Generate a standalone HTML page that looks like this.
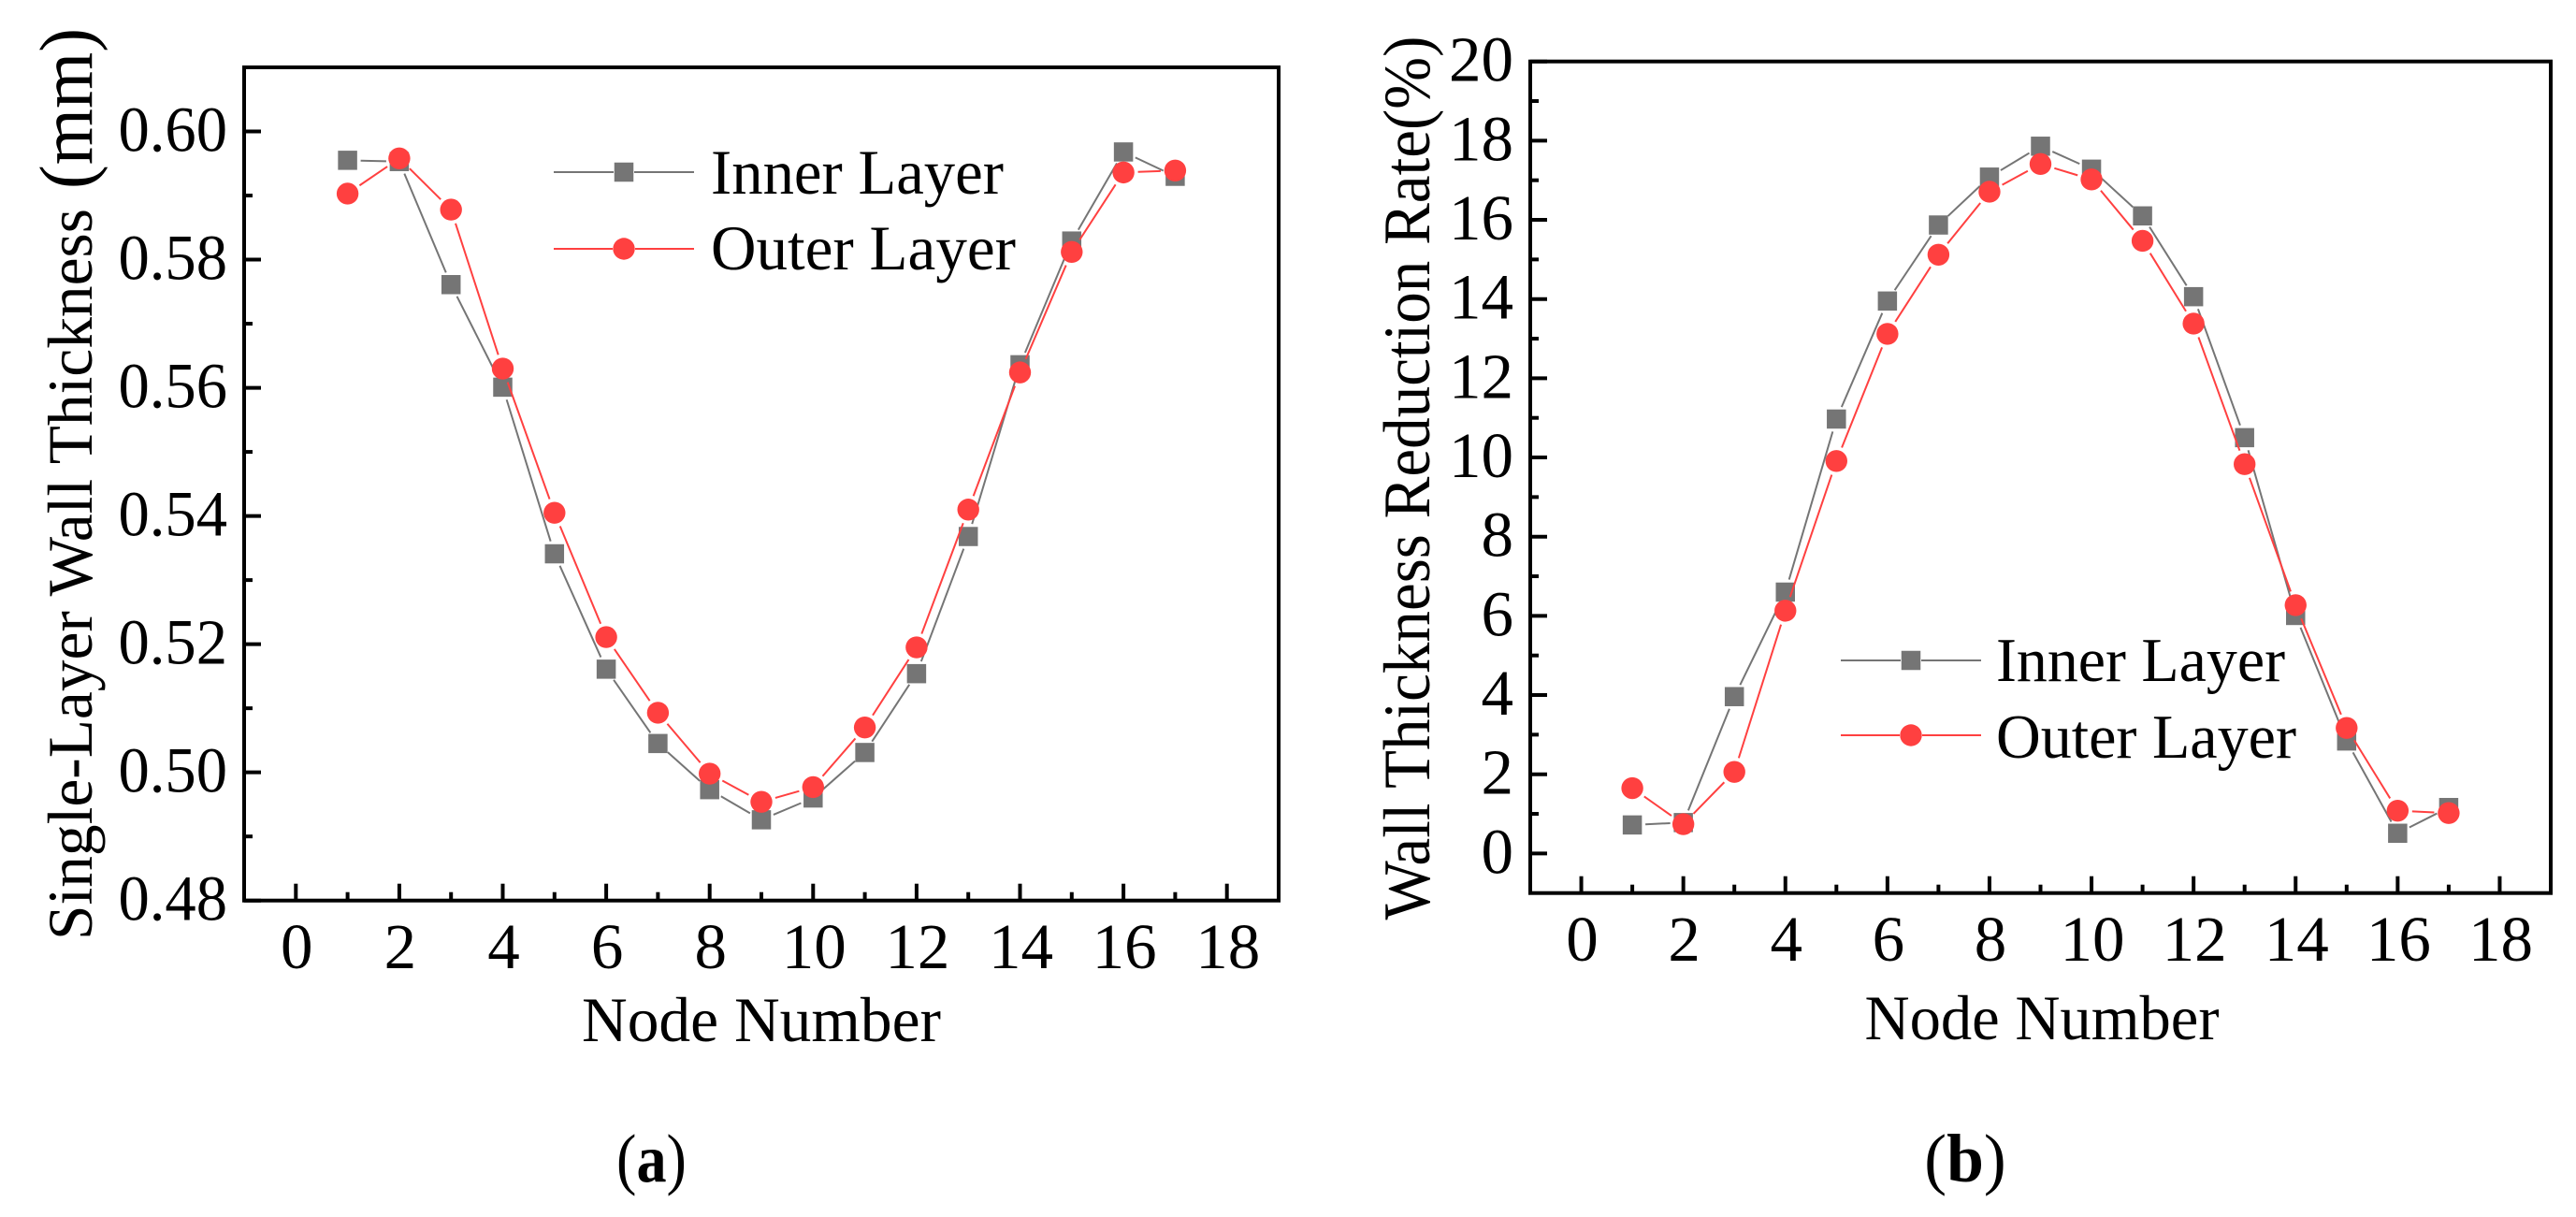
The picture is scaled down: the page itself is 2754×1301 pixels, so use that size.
<!DOCTYPE html>
<html lang="en">
<head>
<meta charset="utf-8">
<title>Wall thickness by node number</title>
<style>
html,body{margin:0;padding:0;background:#fff;width:2754px;height:1301px;overflow:hidden}
svg{display:block}
text{font-family:"Liberation Serif",serif;fill:#000}
</style>
</head>
<body>
<svg id="figure" xmlns="http://www.w3.org/2000/svg" width="2754" height="1301" viewBox="0 0 2754 1301">
  <g id="panel-a">
    <text font-size="68" text-anchor="middle" transform="translate(98,614) rotate(-90)" textLength="782" lengthAdjust="spacingAndGlyphs">Single-Layer Wall Thickness</text>
    <text font-size="81" text-anchor="middle" transform="translate(98,116) rotate(-90)" textLength="172" lengthAdjust="spacingAndGlyphs">(mm)</text>
    <text font-size="68" text-anchor="middle" x="814" y="1113" textLength="384" lengthAdjust="spacingAndGlyphs">Node Number</text>
    <text font-size="73" text-anchor="middle" transform="translate(696.5,1263) scale(0.88,1)">(<tspan font-weight="bold">a</tspan>)</text>
    <g>
      <line x1="592" x2="656" y1="184" y2="184" stroke="#757575" stroke-width="2"/>
      <line x1="678" x2="742" y1="184" y2="184" stroke="#757575" stroke-width="2"/>
      <rect x="656.75" y="173.75" width="20.5" height="20.5" fill="#757575"/>
      <text font-size="68" x="760" y="207" textLength="313" lengthAdjust="spacingAndGlyphs">Inner Layer</text>
      <line x1="592" x2="655" y1="266" y2="266" stroke="#ff4040" stroke-width="2"/>
      <line x1="679" x2="742" y1="266" y2="266" stroke="#ff4040" stroke-width="2"/>
      <circle cx="667" cy="266" r="11.7" fill="#ff4040"/>
      <text font-size="68" x="760" y="288" textLength="326" lengthAdjust="spacingAndGlyphs">Outer Layer</text>
    </g>
  </g>
  <g id="panel-b">
    <text font-size="71" text-anchor="middle" transform="translate(1528,511) rotate(-90)" textLength="945" lengthAdjust="spacingAndGlyphs">Wall Thickness Reduction Rate(%)</text>
    <text font-size="68" text-anchor="middle" x="2183" y="1111" textLength="379" lengthAdjust="spacingAndGlyphs">Node Number</text>
    <text font-size="73" text-anchor="middle" transform="translate(2101,1263) scale(0.98,1)">(<tspan font-weight="bold">b</tspan>)</text>
    <g>
      <line x1="1968" x2="2032" y1="706" y2="706" stroke="#757575" stroke-width="2"/>
      <line x1="2054" x2="2118" y1="706" y2="706" stroke="#757575" stroke-width="2"/>
      <rect x="2032.75" y="695.75" width="20.5" height="20.5" fill="#757575"/>
      <text font-size="67" x="2134" y="728" textLength="309" lengthAdjust="spacingAndGlyphs">Inner Layer</text>
      <line x1="1968" x2="2031" y1="786" y2="786" stroke="#ff4040" stroke-width="2"/>
      <line x1="2055" x2="2118" y1="786" y2="786" stroke="#ff4040" stroke-width="2"/>
      <circle cx="2043" cy="786" r="11.7" fill="#ff4040"/>
      <text font-size="67" x="2134" y="810" textLength="321" lengthAdjust="spacingAndGlyphs">Outer Layer</text>
    </g>
  </g>
</svg>
<script>
const nodes = [1, 2, 3, 4, 5, 6, 7, 8, 9, 10, 11, 12, 13, 14, 15, 16, 17];
const xTickLabels = ["0", "2", "4", "6", "8", "10", "12", "14", "16", "18"];
const thicknessTickLabels = ["0.48", "0.50", "0.52", "0.54", "0.56", "0.58", "0.60"];
const reductionTickLabels = ["0", "2", "4", "6", "8", "10", "12", "14", "16", "18", "20"];
const thicknessInner = [0.5955, 0.5953, 0.5761, 0.5601, 0.5341, 0.5161, 0.5045, 0.4973, 0.4926, 0.4960, 0.5031, 0.5154, 0.5368, 0.5636, 0.5829, 0.5968, 0.5930];
const thicknessOuter = [0.5903, 0.5958, 0.5878, 0.5630, 0.5405, 0.5211, 0.5093, 0.4998, 0.4954, 0.4977, 0.5070, 0.5195, 0.5410, 0.5624, 0.5812, 0.5936, 0.5939];
const reductionInner = [0.72, 0.78, 3.96, 6.60, 10.97, 13.95, 15.87, 17.08, 17.86, 17.28, 16.10, 14.06, 10.50, 6.01, 2.84, 0.51, 1.16];
const reductionOuter = [1.65, 0.74, 2.06, 6.13, 9.91, 13.12, 15.12, 16.71, 17.41, 17.02, 15.47, 13.38, 9.83, 6.27, 3.17, 1.08, 1.02];

const SVG_NS = "http://www.w3.org/2000/svg";
const GREY = "#757575";
const RED = "#ff4040";

function shape(parent, tag, attrs) {
  const el = document.createElementNS(SVG_NS, tag);
  for (const k in attrs) el.setAttribute(k, attrs[k]);
  parent.appendChild(el);
  return el;
}

function linear(d0, d1, r0, r1) {
  return function (v) { return r0 + (v - d0) * (r1 - r0) / (d1 - d0); };
}

function drawSeries(parent, name, color, kind, xs, ys, xScale, yScale) {
  const group = shape(parent, "g", {});
  
  
  const offset = kind === "square" ? 14 : 15.5;
  for (let i = 0; i < xs.length - 1; i++) {
    const x1 = xScale(xs[i]), y1 = yScale(ys[i]), x2 = xScale(xs[i + 1]), y2 = yScale(ys[i + 1]);
    const len = Math.hypot(x2 - x1, y2 - y1);
    if (len <= offset * 2) continue;
    const ux = (x2 - x1) / len, uy = (y2 - y1) / len;
    const seg = shape(group, "line", {
      x1: x1 + ux * offset, y1: y1 + uy * offset,
      x2: x2 - ux * offset, y2: y2 - uy * offset,
      stroke: color, "stroke-width": 2
    });
    
    
  }
  for (let i = 0; i < xs.length; i++) {
    const cx = xScale(xs[i]), cy = yScale(ys[i]);
    const mark = kind === "square"
      ? shape(group, "rect", { x: cx - 10.25, y: cy - 10.25, width: 20.5, height: 20.5, fill: color })
      : shape(group, "circle", { cx: cx, cy: cy, r: 11.7, fill: color });
    
    
  }
}

function drawPanel(parent, cfg) {
  const xScale = linear(-1, 19, cfg.left, cfg.right);
  const yScale = linear(cfg.yMin, cfg.yMax, cfg.bottom, cfg.top);
  const axes = shape(parent, "g", { stroke: "#000", "stroke-width": 4, fill: "none" });
  
  

  const frame = shape(axes, "rect", { x: cfg.left, y: cfg.top, width: cfg.right - cfg.left, height: cfg.bottom - cfg.top });
  
  

  const xVals = xTickLabels.map(Number);
  xVals.forEach(function (v, i) {
    const t = shape(axes, "line", { x1: xScale(v), x2: xScale(v), y1: cfg.bottom, y2: cfg.bottom - 18 });
    
    
    if (i < xVals.length - 1) {
      const m = (v + xVals[i + 1]) / 2;
      const mt = shape(axes, "line", { x1: xScale(m), x2: xScale(m), y1: cfg.bottom, y2: cfg.bottom - 9 });
      
      
    }
    const lab = shape(parent, "text", { x: xScale(v) + 1, y: cfg.xLabelY, "font-size": 69, "text-anchor": "middle" });
    lab.textContent = xTickLabels[i];
    
    
  });

  const yVals = cfg.yLabels.map(Number);
  yVals.forEach(function (v, i) {
    const t = shape(axes, "line", { x1: cfg.left, x2: cfg.left + 18, y1: yScale(v), y2: yScale(v) });
    
    
    const m = i < yVals.length - 1 ? (v + yVals[i + 1]) / 2 : v + (v - yVals[i - 1]) / 2;
    if (m < cfg.yMax) {
      const mt = shape(axes, "line", { x1: cfg.left, x2: cfg.left + 9, y1: yScale(m), y2: yScale(m) });
      
      
    }
    const lab = shape(parent, "text", { x: cfg.yLabelX, y: yScale(v) + 21, "font-size": 69, "text-anchor": "end" });
    lab.textContent = cfg.yLabels[i];
    if (cfg.yLabelAdvance) {
      lab.setAttribute("textLength", cfg.yLabelAdvance);
      lab.setAttribute("lengthAdjust", "spacingAndGlyphs");
    }
    
    
  });

  const plot = shape(parent, "g", {});
  
  
  drawSeries(plot, "inner-layer", GREY, "square", nodes, cfg.inner, xScale, yScale);
  drawSeries(plot, "outer-layer", RED, "circle", nodes, cfg.outer, xScale, yScale);
}

drawPanel(document.getElementById("panel-a"), {
  name: "panel-a", left: 261, right: 1367, top: 72, bottom: 962.7,
  yMin: 0.48, yMax: 0.61, yLabels: thicknessTickLabels,
  inner: thicknessInner, outer: thicknessOuter,
  xLabelY: 1035, yLabelX: 243, yLabelAdvance: 116.5
});
drawPanel(document.getElementById("panel-b"), {
  name: "panel-b", left: 1636, right: 2727, top: 65.7, bottom: 954.7,
  yMin: -1, yMax: 20, yLabels: reductionTickLabels,
  inner: reductionInner, outer: reductionOuter,
  xLabelY: 1027, yLabelX: 1618
});
</script>
</body>
</html>
